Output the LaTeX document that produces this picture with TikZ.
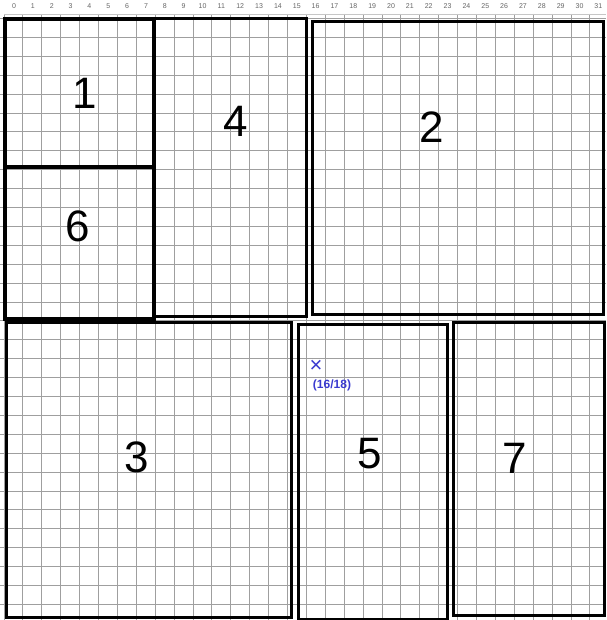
\documentclass[tikz,border=0pt]{standalone}
\usepackage{fontspec}
\setmainfont{Liberation Sans}
\usepackage{xcolor}
\definecolor{penblue}{HTML}{3A3AD0}
\tikzset{
  gridline/.style  = {draw=gray!75, line width=0.9pt},
  rulerline/.style = {draw=gray!45, line width=0.6pt},
  area/.style      = {draw=black, line width=3pt},
  bigarea/.style   = {draw=black, line width=4pt},
  colnum/.style    = {font=\fontsize{7}{7}\selectfont, text=gray!80!black, inner sep=0pt},
  areanum/.style   = {font=\fontsize{44}{44}\selectfont, inner sep=0pt},
  pointtag/.style  = {font=\fontsize{12}{12}\selectfont\bfseries, text=penblue, inner sep=0pt}
}
\begin{document}
\begin{tikzpicture}[x=1pt, y=-1pt]
  \useasboundingbox (0,0) rectangle (606,620);
  \fill[white] (0,0) rectangle (606,620);

  % squared paper
  \foreach \i in {0,...,31}
    \draw[gridline] ({4+18.9*\i},14) -- ({4+18.9*\i},620);
  \foreach \j in {0,...,31}
    \draw[gridline] (0,{18.5+18.9*\j}) -- (606,{18.5+18.9*\j});
  \draw[rulerline] (4,14) -- (606,14);
  \foreach \i in {0,...,31}
    \node[colnum] (col\i) at ({14+18.85*\i},6) {\i};

  % areas
  \draw[bigarea] (4.5,19) rectangle (153.5,167);
  \draw[bigarea] (5,167) rectangle (153.5,319);
  \draw[area] (153.5,19) rectangle (306,316);
  \draw[area] (312,22) rectangle (603,314);
  \draw[area] (6,322) rectangle (291,617);
  \draw[area] (298,324) rectangle (447,619);
  \draw[area] (453,322) rectangle (604.5,615);

  \node[areanum] (num1) at (85,93)   {1};
  \node[areanum] (num4) at (236,121) {4};
  \node[areanum] (num2) at (432,127) {2};
  \node[areanum] (num6) at (78,226)  {6};
  \node[areanum] (num3) at (137,457) {3};
  \node[areanum] (num5) at (370,454) {5};
  \node[areanum] (num7) at (515,458) {7};

  % marked point
  \node[pointtag, font=\fontsize{22}{22}\selectfont] (cross) at (316,366) {×};
  \node[pointtag] (crosstag) at (332,385) {(16/18)};
\end{tikzpicture}
\end{document}
